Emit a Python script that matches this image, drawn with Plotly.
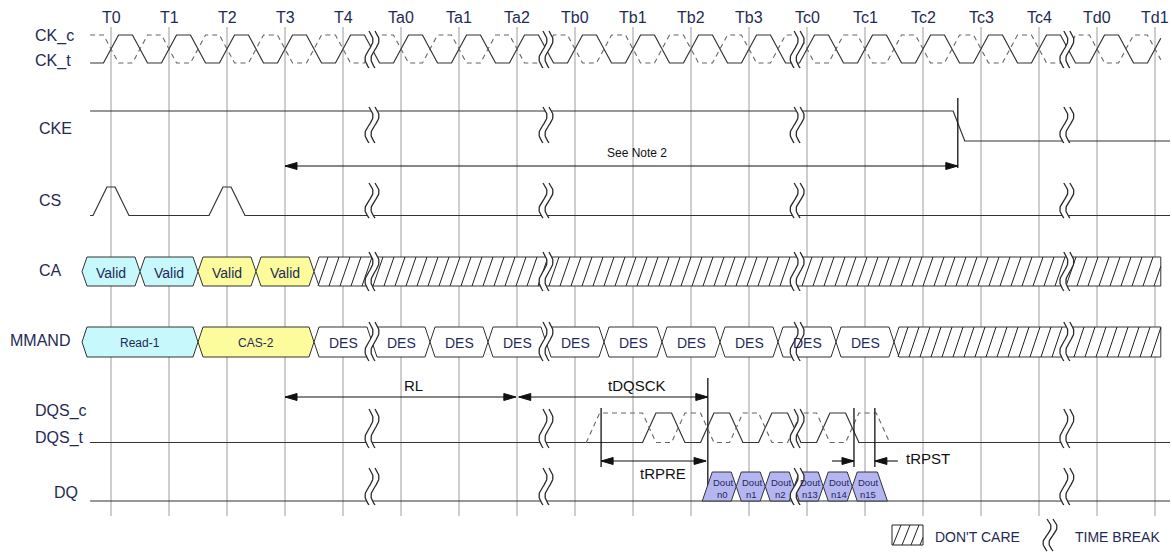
import numpy as np
import plotly.graph_objects as go

W, H = 1172, 552
X0_PX, STEP_PX = 111.0, 58.0          # pixel position of T0, pixels per clock


def ux(px):
    return (px - X0_PX) / STEP_PX


def lu(px):
    return px / STEP_PX


# ------------------------------------------------------------------ data
T_LABELS = ["T0", "T1", "T2", "T3", "T4", "Ta0", "Ta1", "Ta2", "Tb0", "Tb1",
            "Tb2", "Tb3", "Tc0", "Tc1", "Tc2", "Tc3", "Tc4", "Td0", "Td1"]
ROW_LABELS = ["CK_c", "CK_t", "CKE", "CS", "CA", "MMAND", "DQS_c", "DQS_t", "DQ"]
TIME_BREAKS = [4.5, 7.5, 11.83, 16.48]

SIG_START, SIG_END, CK_END = -0.36, 18.26, 18.1
CK_EDGES = [i / 2 for i in range(0, 2 * (len(T_LABELS) - 1) + 1)]
CS_PULSES = [0, 2]
CKE_FALL = [14.52, 14.72]

CA_BOUNDS = [-0.5, 0.5, 1.5, 2.5, 3.5]
CA_TEXT = ["Valid", "Valid", "Valid", "Valid"]
CA_KIND = ["rd", "rd", "cas", "cas"]
CA_DONTCARE = [3.5, 18.1]

CMD_BOUNDS = [-0.5, 1.5, 3.5, 4.5, 5.5, 6.5, 7.5, 8.5, 9.5, 10.5, 11.5, 12.5, 13.5]
CMD_TEXT = ["Read-1", "CAS-2"] + ["DES"] * 10
CMD_KIND = ["rd", "cas"] + ["des"] * 10
CMD_DONTCARE = [13.5, 18.1]

DQS_EDGES = [8.31, 9.28, 9.78, 10.28, 10.78, 11.28, 11.78, 12.28, 12.78, 13.31]
DQS_C_SPAN = [8.2, 13.43]

DOUT_BOUNDS = [10.28, 10.78, 11.28, 11.78, 12.28, 12.78, 13.3]
DOUT_TEXT = ["n0", "n1", "n2", "n13", "n14", "n15"]

# (label, x_from, x_to)
ARROW_NOTE = ("See Note 2", 3.0, 14.6)
ARROW_RL = ("RL", 3.0, 6.98)
ARROW_DQSCK = ("tDQSCK", 7.03, 10.29)
ARROW_RPRE = ("tRPRE", 8.45, 10.26)
ARROW_RPST = ("tRPST", 12.81, 13.17)

# ------------------------------------------------------------------ style
FILL = {"rd": "#c6f8fc", "cas": "#fcfc9c", "des": "#ffffff", "dout": "#b5b5f2"}
LINE = "#333333"
GRID = "#9c9c9c"
TXT = "#1f2a56"
FONT = "Liberation Sans, Arial, sans-serif"

CK_HI, CK_LO = 35, 63
CKE_HI, CKE_LO = 111, 141
CS_HI, CS_LO = 187, 215.5
CA_TOP, CA_BOT = 257, 286
CMD_TOP, CMD_BOT = 327, 357
DQS_HI, DQS_LO = 413, 442.5
DQ_TOP, DQ_BOT = 472, 501
SLANT = lu(5)

fig = go.Figure()
ann = []


def line(xs, ys, color=LINE, width=1.2, dash=None):
    fig.add_trace(go.Scatter(x=xs, y=ys, mode="lines", hoverinfo="skip",
                             line=dict(color=color, width=width, dash=dash)))


def poly(xs, ys, fill, color=LINE, width=1.0):
    fig.add_trace(go.Scatter(x=list(xs) + [xs[0]], y=list(ys) + [ys[0]], mode="lines",
                             fill="toself", fillcolor=fill, hoverinfo="skip",
                             line=dict(color=color, width=width)))


def text(x, y, s, size, color=TXT, anchor="center", xref="x"):
    ann.append(dict(x=x, y=y, xref=xref, yref="y", text=s, showarrow=False,
                    xanchor=anchor, yanchor="middle",
                    font=dict(family=FONT, size=size, color=color)))


def wave(start, end, edges, high_first, hi, lo, tw):
    cur = hi if high_first else lo
    xs, ys = [start], [cur]
    for e in edges:
        nxt = lo if cur == hi else hi
        xs += [e - tw / 2, e + tw / 2]
        ys += [cur, nxt]
        cur = nxt
    xs.append(max(end, xs[-1]))
    ys.append(cur)
    xs, ys = np.array(xs), np.array(ys)
    yend = np.interp(end, xs, ys)
    keep = xs < end
    return list(xs[keep]) + [end], list(ys[keep]) + [yend]


def hatch(x_left, x_right, y_top, y_bot, spacing=11, lean=10, width=1.0):
    """diagonal hatch lines (pixel-based) between two x values in units"""
    xl, xr = X0_PX + x_left * STEP_PX, X0_PX + x_right * STEP_PX
    xs, ys = [], []
    xb = xl - lean
    while xb < xr:
        x_a, x_b = xb, xb + lean
        y_a, y_b = y_bot, y_top

        def at(xv):
            return y_bot + (xv - xb) / lean * (y_top - y_bot)
        if x_a < xl:
            y_a, x_a = at(xl), xl
        if x_b > xr:
            y_b, x_b = at(xr), xr
        if x_b > x_a:
            xs += [ux(x_a), ux(x_b), None]
            ys += [y_a, y_b, None]
        xb += spacing
    line(xs, ys, color="#222222", width=width)


def hexcell(a, b, top, bot, fill, left_open=False, right_open=False):
    c = (top + bot) / 2
    if left_open:
        lx, ly = [a - lu(5), a + lu(5)], [bot, top]
    else:
        lx, ly = [a, a + SLANT], [c, top]
    if right_open:
        rx, ry = [b - lu(5), b + lu(5)], [top, bot]
    else:
        rx, ry = [b - SLANT, b, b - SLANT], [top, c, bot]
    xs = lx + rx + ([a + SLANT] if not left_open else [])
    ys = ly + ry + ([bot] if not left_open else [])
    poly(xs, ys, fill)


def arrowhead(xtip, y, direction, L=12, hw=3.5):
    xb = xtip - direction * lu(L)
    fig.add_trace(go.Scatter(x=[xtip, xb, xb, xtip], y=[y, y - hw, y + hw, y],
                             mode="lines", fill="toself", fillcolor="#111111",
                             line=dict(color="#111111", width=1), hoverinfo="skip"))


def arrow(x1, x2, y, head1=True, head2=True):
    line([x1, x2], [y, y], color="#111111", width=1.1)
    if head1:
        arrowhead(x1, y, -1)
    if head2:
        arrowhead(x2, y, +1)


def timebreak(xc, ytop, ybot, amp=4.0, gap=6.0):
    t = np.linspace(0, 1, 40)
    yy = ytop + t * (ybot - ytop)
    base = X0_PX + xc * STEP_PX
    x1 = base - gap / 2 + amp * np.sin(2 * np.pi * t)
    x2 = base + gap / 2 + amp * np.sin(2 * np.pi * t)
    fig.add_trace(go.Scatter(x=list(ux(x1)) + list(ux(x2[::-1])),
                             y=list(yy) + list(yy[::-1]), mode="lines",
                             fill="toself", fillcolor="white",
                             line=dict(width=0, color="white"), hoverinfo="skip"))
    line(list(ux(x1)), list(yy), color="#2a2a2a", width=1.3)
    line(list(ux(x2)), list(yy), color="#2a2a2a", width=1.3)


# ------------------------------------------------------------------ grid
gx, gy = [], []
for i in range(len(T_LABELS)):
    gx += [i, i, None]
    gy += [27, 516, None]
line(gx, gy, color=GRID, width=1.0)

for i, lab in enumerate(T_LABELS):
    text(i, 17, lab, 16)

# ------------------------------------------------------------------ clocks
x, y = wave(SIG_START, CK_END, CK_EDGES, False, CK_HI, CK_LO, 0.26)
line(x, y, color=LINE, width=1.2)
x, y = wave(SIG_START, CK_END, CK_EDGES, True, CK_HI, CK_LO, 0.26)
line(x, y, color="#666666", width=1.1, dash="5px,4px")

# CKE
line([SIG_START, CKE_FALL[0], CKE_FALL[1], SIG_END], [CKE_HI, CKE_HI, CKE_LO, CKE_LO])
line([ARROW_NOTE[2], ARROW_NOTE[2]], [98, 168], color="#111111", width=1.3)
arrow(ARROW_NOTE[1], ARROW_NOTE[2], 166)
text(ux(637), 153, ARROW_NOTE[0], 12, color="#111111")

# CS
csx, csy = [SIG_START], [CS_LO]
for p in CS_PULSES:
    csx += [p - 0.31, p - 0.07, p + 0.07, p + 0.31]
    csy += [CS_LO, CS_HI, CS_HI, CS_LO]
csx.append(SIG_END)
csy.append(CS_LO)
line(csx, csy)

# CA bus
for k, (a, b) in enumerate(zip(CA_BOUNDS[:-1], CA_BOUNDS[1:])):
    hexcell(a, b, CA_TOP, CA_BOT, FILL[CA_KIND[k]])
    text((a + b) / 2, (CA_TOP + CA_BOT) / 2 + 1, CA_TEXT[k], 14)
a, b = CA_DONTCARE
c = (CA_TOP + CA_BOT) / 2
poly([a, a + SLANT, b, b, a + SLANT], [c, CA_TOP, CA_TOP, CA_BOT, CA_BOT], "white")
hatch(a + SLANT * 0.6, b, CA_TOP, CA_BOT)

# Command bus
for k, (a, b) in enumerate(zip(CMD_BOUNDS[:-1], CMD_BOUNDS[1:])):
    hexcell(a, b, CMD_TOP, CMD_BOT, FILL[CMD_KIND[k]])
    sz = 14 if CMD_TEXT[k] == "DES" else 12
    text((a + b) / 2, (CMD_TOP + CMD_BOT) / 2 + 1, CMD_TEXT[k], sz)
a, b = CMD_DONTCARE
c = (CMD_TOP + CMD_BOT) / 2
poly([a, a + SLANT, b, b, a + SLANT], [c, CMD_TOP, CMD_TOP, CMD_BOT, CMD_BOT], "white")
hatch(a + SLANT * 0.6, b, CMD_TOP, CMD_BOT)

# timing arrows
arrow(ARROW_RL[1], ARROW_RL[2], 397)
text(ux(413), 385, ARROW_RL[0], 15, color="#111111")
arrow(ARROW_DQSCK[1], ARROW_DQSCK[2], 397)
text(ux(637), 385, ARROW_DQSCK[0], 15, color="#111111")
line([ARROW_DQSCK[2], ARROW_DQSCK[2]], [378, DQ_BOT], color="#111111", width=1.3)

# DQS
dqs_t = DQS_EDGES[1:-1]
x, y = wave(SIG_START, SIG_END, dqs_t, False, DQS_HI, DQS_LO, 0.23)
line(x, y)
x, y = wave(DQS_C_SPAN[0], DQS_C_SPAN[1], DQS_EDGES, False, DQS_HI, DQS_LO, 0.23)
line(x, y, color="#666666", width=1.1, dash="5px,4px")

line([ARROW_RPRE[1], ARROW_RPRE[1]], [408, 467], color="#111111", width=1.3)
arrow(ARROW_RPRE[1], ARROW_RPRE[2], 461)
text(ux(663), 473, ARROW_RPRE[0], 15, color="#111111")
for xv in ARROW_RPST[1:]:
    line([xv, xv], [408, 467], color="#111111", width=1.3)
line([ARROW_RPST[1] - lu(22), ARROW_RPST[1]], [461, 461], color="#111111", width=1.1)
arrowhead(ARROW_RPST[1], 461, +1)
line([ARROW_RPST[2], ARROW_RPST[2] + lu(23)], [461, 461], color="#111111", width=1.1)
arrowhead(ARROW_RPST[2], 461, -1)
text(ux(904), 458, ARROW_RPST[0], 15, color="#111111", anchor="left")

# DQ
line([SIG_START, SIG_END], [DQ_BOT, DQ_BOT])
n = len(DOUT_TEXT)
for k, (a, b) in enumerate(zip(DOUT_BOUNDS[:-1], DOUT_BOUNDS[1:])):
    hexcell(a, b, DQ_TOP, DQ_BOT, FILL["dout"], left_open=(k == 0), right_open=(k == n - 1))
    text((a + b) / 2 + 0.02, 482, "Dout", 9.5)
    text((a + b) / 2 + 0.02, 494, DOUT_TEXT[k], 9.5)

# ------------------------------------------------------------------ time breaks
BREAK_ROWS = [(31, 68), (107, 143), (183, 218), (252, 291), (322, 361), (409, 448), (468, 505)]
for xb in TIME_BREAKS:
    for (yt, yb) in BREAK_ROWS:
        timebreak(xb, yt, yb)

# ------------------------------------------------------------------ row labels
ROW_POS = {"CK_c": (33, 36), "CK_t": (33, 61), "CKE": (37, 128), "CS": (37, 200),
           "CA": (37, 270), "MMAND": (8, 340), "DQS_c": (33, 411), "DQS_t": (33, 438),
           "DQ": (52, 492)}
for lab in ROW_LABELS:
    px, py = ROW_POS[lab]
    text(px / W, py, lab, 16, anchor="left", xref="paper")

# ------------------------------------------------------------------ legend
lx0, lx1, ly0, ly1 = ux(892), ux(923), 525, 545
poly([lx0, lx1, lx1, lx0], [ly0, ly0, ly1, ly1], "white", color="#222222")
hatch(lx0, lx1, ly0, ly1, spacing=9, lean=8)
text(933 / W, 537, "DON'T CARE", 14, anchor="left", xref="paper")
timebreak(ux(1050), 519, 551)
text(1073 / W, 537, "TIME BREAK", 14, anchor="left", xref="paper")

fig.update_layout(
    width=W, height=H, margin=dict(l=0, r=0, t=0, b=0),
    paper_bgcolor="white", plot_bgcolor="white", showlegend=False,
    xaxis=dict(range=[ux(0), ux(W)], visible=False, fixedrange=True),
    yaxis=dict(range=[H, 0], visible=False, fixedrange=True),
    annotations=ann,
)
fig.write_html("out.html", config={"displayModeBar": False},
               post_script="document.body.style.margin='0px';")
